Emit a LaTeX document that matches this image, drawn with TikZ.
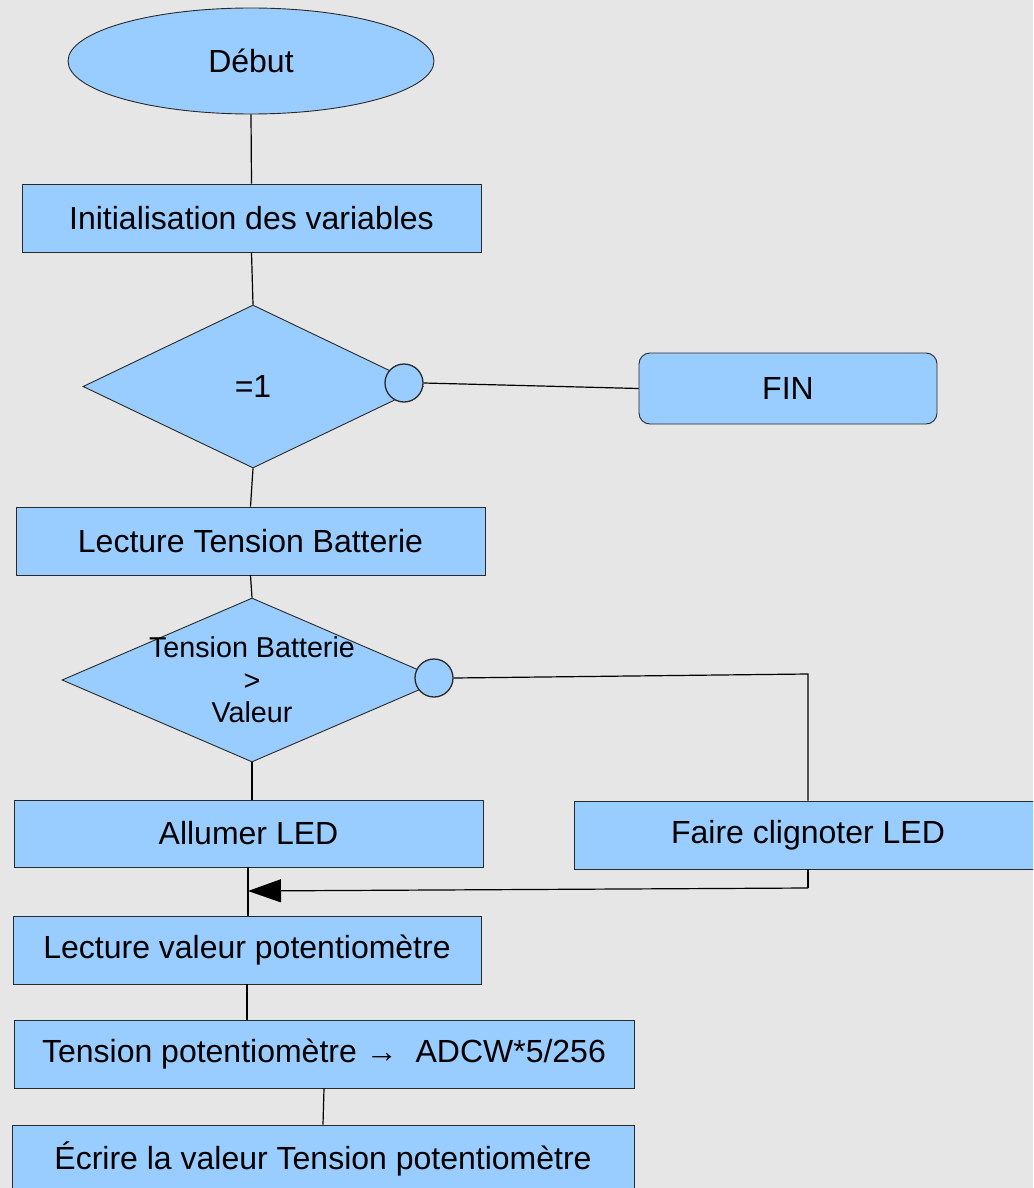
\documentclass[tikz,border=0pt]{standalone}
\usepackage{fontspec}
\setmainfont{Liberation Sans}
\usetikzlibrary{shapes.geometric,arrows.meta}
\definecolor{bg}{HTML}{E6E6E6}
\definecolor{boxfill}{HTML}{99CCFF}
\definecolor{edge}{HTML}{2A2A2A}
\begin{document}
\begin{tikzpicture}[x=1pt,y=-1pt,
  every node/.style={font=\fontsize{32}{36}\selectfont, inner sep=0pt},
  procbox/.style={rectangle, draw=edge, line width=0.9pt, fill=boxfill, minimum height=68pt},
  startshape/.style={ellipse, draw=edge, line width=0.9pt, fill=boxfill},
  decide/.style={diamond, draw=edge, line width=0.9pt, fill=boxfill},
  knob/.style={circle, draw=edge, line width=1.3pt, fill=boxfill, minimum size=38pt},
  endbox/.style={rectangle, rounded corners=11pt, draw=edge, line width=0.9pt, fill=boxfill},
  link/.style={line width=1.2pt, black}]
\fill[bg] (0,0) rectangle (1033,1188);
\useasboundingbox (0,0) rectangle (1033,1188);
\clip (0,0) rectangle (1033,1188);

\node[startshape, minimum width=366pt, minimum height=106pt] (debut) at (251,61) {Début};
\node[procbox, minimum width=459pt] (init) at (251.5,218) {Initialisation des variables};
\node[decide, minimum width=340pt, minimum height=163pt] (d1) at (253,386.5) {=1};
\node[knob] (c1) at (404,383) {};
\node[endbox, minimum width=298pt, minimum height=71pt] (fin) at (788,388.5) {FIN};
\node[procbox, minimum width=469pt] (ltb) at (250.5,541) {Lecture Tension Batterie};
\node[decide, minimum width=380pt, minimum height=164pt,
      label={[align=center, font=\fontsize{28.7}{32.5}\selectfont]center:Tension Batterie\\>\\Valeur}] (d2) at (252,680) {};
\node[knob] (c2) at (434,678) {};
\node[procbox, minimum width=469pt, minimum height=67pt] (led) at (248.5,833.5) {Allumer LED};
\node[procbox, minimum width=468pt] (blink) at (808,835) {Faire clignoter LED};
\node[procbox, minimum width=468pt] (lvp) at (247,950) {Lecture valeur potentiomètre};
\node[procbox, minimum width=620pt] (tp) at (324,1054) {Tension potentiomètre →\ \ ADCW*5/256};
\node[procbox, minimum width=622pt] (ecr) at (323,1159) {Écrire la valeur Tension potentiomètre};

\coordinate (k1) at (808,674);
\coordinate (k2) at (808,888);
\coordinate (m) at (248,891);

\draw[link] (debut.south) -- (init.north);
\draw[link] (init.south) -- (d1.north);
\draw[link] (c1.east) -- (fin.west);
\draw[link] (d1.south) -- (ltb.north);
\draw[link] (ltb.south) -- (d2.north);
\draw[link] (c2.east) -- (k1) -- (k1 |- blink.north);
\draw[link] (d2.south) -- (d2.south |- led.north);
\draw[link] (led.south -| m) -- (m |- lvp.north);
\draw[link] (blink.south -| k2) -- (k2);
\draw[link, -{Triangle[length=33pt,width=23pt]}] (k2) -- (m);
\draw[line width=2.2pt] ([yshift=-14pt]m) -- ([yshift=14pt]m);
\draw[link] (lvp.south) -- (lvp.south |- tp.north);
\draw[link] (tp.south) -- (ecr.north);
\end{tikzpicture}
\end{document}
